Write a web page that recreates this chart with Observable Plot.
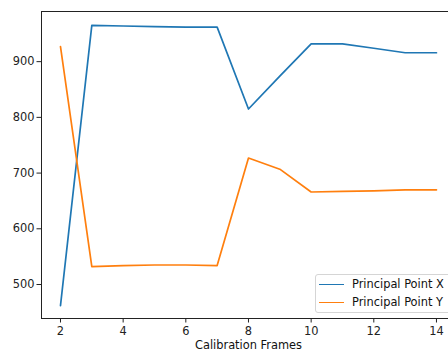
<!DOCTYPE html>
<html>
<head>
<meta charset="utf-8">
<script src="https://cdn.jsdelivr.net/npm/d3@7"></script>
<script src="https://cdn.jsdelivr.net/npm/@observablehq/plot@0.6"></script>
<style>
  html, body { margin: 0; padding: 0; background: #fff; }
  #wrap { position: relative; width: 448px; height: 356px; overflow: hidden; font-family: "DejaVu Sans", sans-serif; }
  #legend { position: absolute; left: 315px; top: 274px; width: 150px; height: 39px; box-sizing: border-box;
    border: 1px solid #d5d5d5; border-radius: 3px; background: rgba(255,255,255,0.8); font-size: 11.4px; color: #111; }
  .swatch { position: absolute; left: 3px; width: 25px; height: 0; border-top: 1.7px solid; }
  .lab { position: absolute; left: 36px; white-space: nowrap; line-height: 13px; }
</style>
</head>
<body>
<div id="wrap"></div>
<script>
const frames = [2, 3, 4, 5, 6, 7, 8, 9, 10, 11, 12, 13, 14];
const principalX = [462, 965, 964, 963, 962, 962, 815, 874, 932, 932, 924, 916, 916];
const principalY = [927, 532, 534, 535, 535, 534, 727, 707, 666, 667, 668, 670, 670];
const seriesNames = ["Principal Point X", "Principal Point Y"];
const seriesColors = ["#1f77b4", "#ff7f0e"];
const xTicks = [2, 4, 6, 8, 10, 12, 14];
const yTicks = [500, 600, 700, 800, 900];

const data = [];
frames.forEach((f, i) => {
  data.push({frame: f, value: principalX[i], series: seriesNames[0]});
  data.push({frame: f, value: principalY[i], series: seriesNames[1]});
});

const xDom = [1.394, 14.384];
const yDom = [439, 990];

const chart = Plot.plot({
  width: 448,
  height: 356,
  marginLeft: 41,
  marginTop: 11,
  marginBottom: 38,
  marginRight: 0,
  style: {fontFamily: "DejaVu Sans, sans-serif", fontSize: "11.4px", color: "#222", background: "#fff"},
  x: {domain: xDom},
  y: {domain: yDom},
  color: {domain: seriesNames, range: seriesColors},
  marks: [
    Plot.line(data, {x: "frame", y: "value", z: "series", stroke: "series", strokeWidth: 1.7}),
    Plot.ruleX([xDom[0]], {stroke: "#222", strokeWidth: 1}),
    Plot.ruleY([yDom[0]], {stroke: "#222", strokeWidth: 1}),
    Plot.ruleY([yDom[1]], {stroke: "#222", strokeWidth: 1}),
    Plot.axisX(xTicks, {tickSize: 4.5, tickPadding: 4, fontSize: 11.4, stroke: "#222", fill: "#222", label: null}),
    Plot.axisY(yTicks, {tickSize: 4.5, tickPadding: 2.5, fontSize: 11.4, stroke: "#222", fill: "#222", label: null}),
    Plot.text(["Calibration Frames"], {frameAnchor: "bottom", x: () => 8, dy: 30, fontSize: 11.4, fill: "#111", textAnchor: "middle"})
  ]
});
document.getElementById("wrap").appendChild(chart);

const legend = document.createElement("div");
legend.id = "legend";
seriesNames.forEach((name, i) => {
  const sw = document.createElement("div");
  sw.className = "swatch";
  sw.style.borderTopColor = seriesColors[i];
  sw.style.top = (9 + i * 18) + "px";
  const lb = document.createElement("div");
  lb.className = "lab";
  lb.textContent = name;
  lb.style.top = (3 + i * 18) + "px";
  legend.appendChild(sw);
  legend.appendChild(lb);
});
document.getElementById("wrap").appendChild(legend);
</script>
</body>
</html>
